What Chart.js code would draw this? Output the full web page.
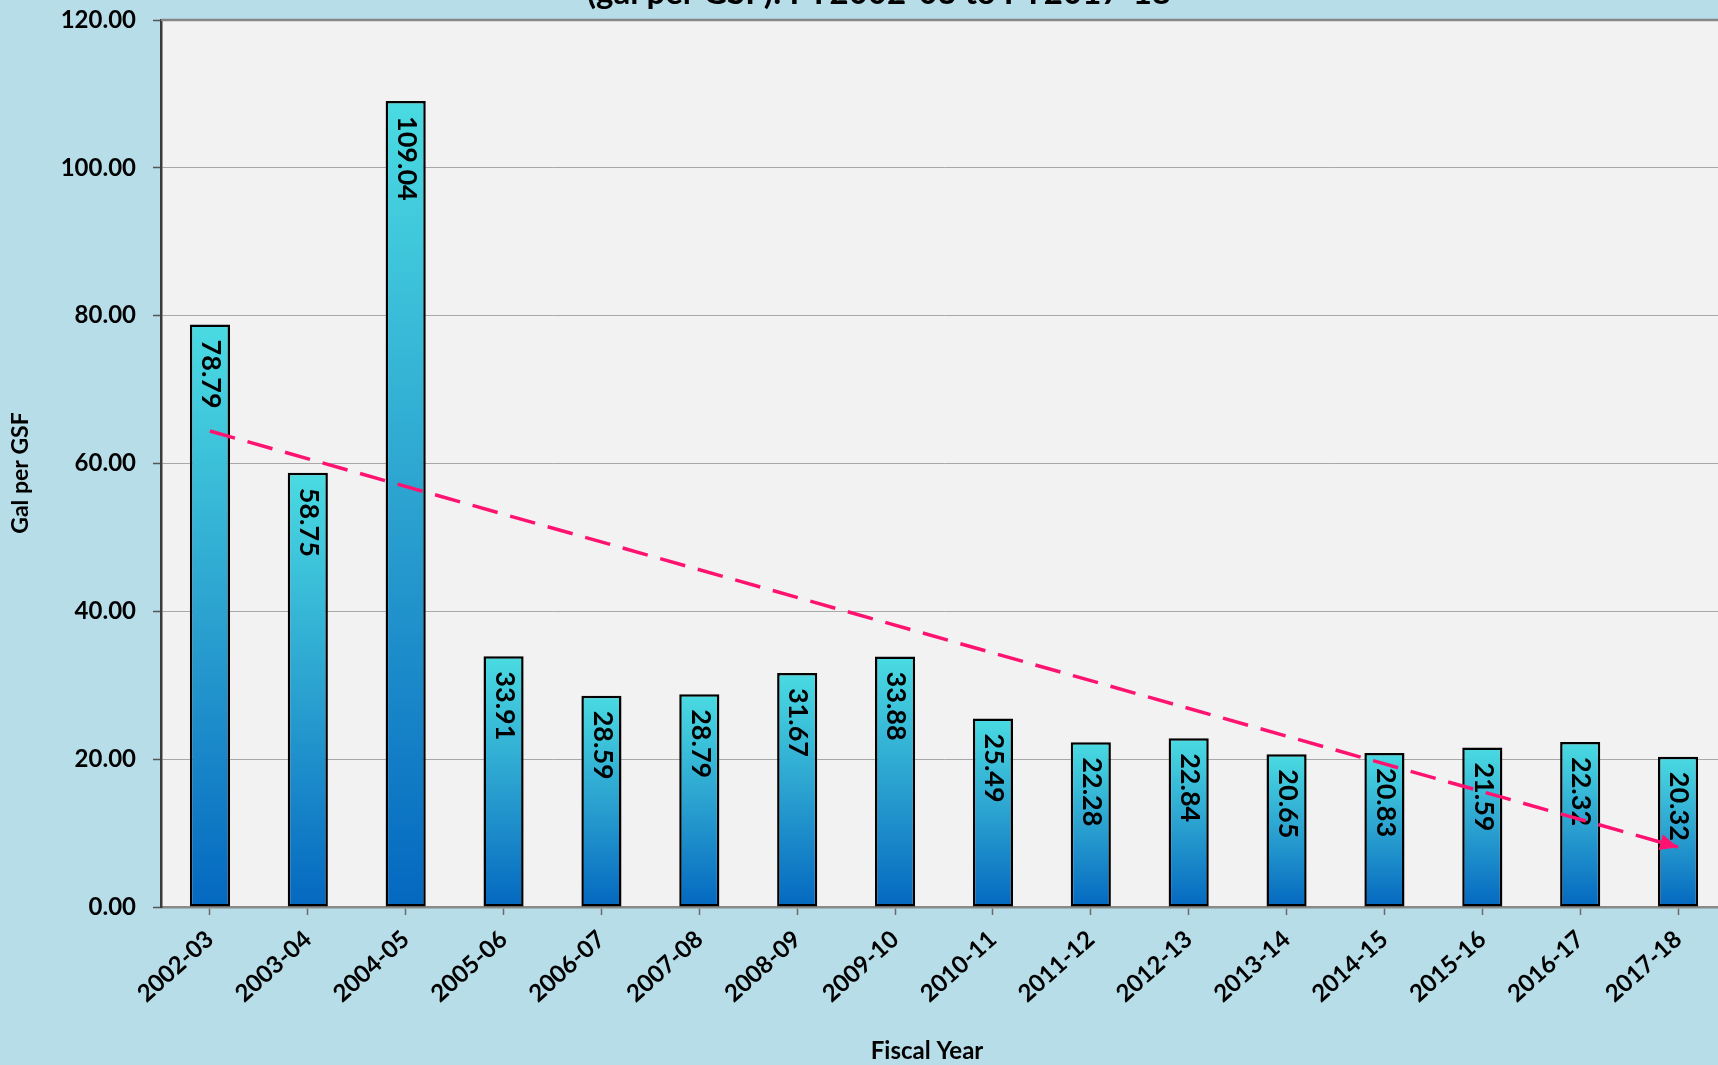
<!DOCTYPE html>
<html>
<head>
<meta charset="utf-8">
<title>Gal per GSF by Fiscal Year</title>
<script src="https://cdn.jsdelivr.net/npm/chart.js"></script>
<style>
  html, body { margin: 0; padding: 0; overflow: hidden; background: #b7dde8; }
  #wrap { position: absolute; left: 0; top: 0; width: 1740px; height: 1065px; }
</style>
</head>
<body>
<div id="wrap"><canvas id="waterChart" width="1740" height="1065"></canvas></div>
<script>
const fiscalYears = ['2002-03', '2003-04', '2004-05', '2005-06', '2006-07', '2007-08', '2008-09', '2009-10',
  '2010-11', '2011-12', '2012-13', '2013-14', '2014-15', '2015-16', '2016-17', '2017-18'];
const galPerGsf = [78.79, 58.75, 109.04, 33.91, 28.59, 28.79, 31.67, 33.88,
  25.49, 22.28, 22.84, 20.65, 20.83, 21.59, 22.32, 20.32];
// trend line end points (first and last fiscal year)
const trendStart = 64.4;
const trendEnd = 8.1;
const yTicks = [0, 20, 40, 60, 80, 100, 120];

const FONT = 'Lato, "Open Sans", sans-serif';

const trendData = fiscalYears.map((_, i) =>
  i === 0 ? trendStart : (i === fiscalYears.length - 1 ? trendEnd : null));

function barGradient(ctx) {
  const chart = ctx.chart;
  if (!chart.chartArea || ctx.type !== 'data') return '#2fa8d2';
  const y = chart.scales.y;
  const top = y.getPixelForValue(ctx.raw);
  const base = y.getPixelForValue(0);
  const g = chart.ctx.createLinearGradient(0, top, 0, base);
  g.addColorStop(0, '#4adbe2');
  g.addColorStop(0.5, '#2ba2d0');
  g.addColorStop(1, '#0468c0');
  return g;
}

// plot background, top frame line, clipped title line and axis titles
const frame = {
  id: 'frame',
  beforeDraw(chart) {
    const { ctx, chartArea: a } = chart;
    ctx.save();
    ctx.fillStyle = '#f2f2f2';
    ctx.fillRect(a.left, a.top, a.right - a.left, a.bottom - a.top);
    ctx.restore();
  },
  afterDraw(chart) {
    const { ctx, chartArea: a } = chart;
    ctx.save();
    ctx.strokeStyle = '#868686';
    ctx.lineWidth = 2.5;
    ctx.beginPath();
    ctx.moveTo(a.left, a.top);
    ctx.lineTo(a.right, a.top);
    ctx.stroke();

    ctx.fillStyle = '#000';
    ctx.textAlign = 'center';
    ctx.textBaseline = 'alphabetic';
    ctx.font = 'bold 33px ' + FONT;
    ctx.fillText('(gal per GSF): FY2002-03 to FY2017-18', 879, 4);

    ctx.textBaseline = 'middle';
    ctx.font = 'bold 24px ' + FONT;
    ctx.fillText('Fiscal Year', 927, 1051);

    ctx.font = 'bold 23px ' + FONT;
    ctx.translate(21, 473);
    ctx.rotate(-Math.PI / 2);
    ctx.fillText('Gal per GSF', 0, 0);
    ctx.restore();
  }
};

// vertical value labels inside each bar, reading top to bottom
const barLabels = {
  id: 'barLabels',
  afterDatasetDraw(chart, args) {
    if (args.meta.type !== 'bar') return;
    const ctx = chart.ctx;
    ctx.save();
    ctx.fillStyle = '#000';
    ctx.font = 'bold 27px ' + FONT;
    ctx.textAlign = 'left';
    ctx.textBaseline = 'middle';
    args.meta.data.forEach((bar, i) => {
      ctx.save();
      ctx.translate(bar.x + 1, bar.y + 15);
      ctx.rotate(Math.PI / 2);
      ctx.fillText(galPerGsf[i].toFixed(2), 0, 0);
      ctx.restore();
    });
    ctx.restore();
  }
};

// arrow head at the end of the trend line
const trendArrow = {
  id: 'trendArrow',
  afterDatasetsDraw(chart) {
    const meta = chart.getDatasetMeta(0);
    const pts = meta.data;
    const p0 = pts[0], p1 = pts[pts.length - 1];
    const ang = Math.atan2(p1.y - p0.y, p1.x - p0.x);
    const ctx = chart.ctx;
    ctx.save();
    ctx.translate(p1.x, p1.y);
    ctx.rotate(ang);
    ctx.fillStyle = '#fe1470';
    ctx.beginPath();
    ctx.moveTo(0, 0);
    ctx.lineTo(-18, -8);
    ctx.lineTo(-18, 8);
    ctx.closePath();
    ctx.fill();
    ctx.restore();
  }
};

new Chart(document.getElementById('waterChart'), {
  data: {
    labels: fiscalYears,
    datasets: [
      {
        type: 'line',
        data: trendData,
        order: 0,
        spanGaps: true,
        borderColor: '#fe1470',
        borderWidth: 3.5,
        borderDash: [26, 13],
        pointRadius: 0,
        fill: false
      },
      {
        type: 'bar',
        data: galPerGsf,
        order: 1,
        backgroundColor: barGradient,
        borderColor: '#000',
        borderWidth: 2.5,
        borderSkipped: false,
        categoryPercentage: 1,
        barPercentage: 0.41
      }
    ]
  },
  options: {
    responsive: false,
    animation: false,
    layout: { padding: { top: 20, right: 13, left: 0, bottom: 0 } },
    plugins: { legend: { display: false }, tooltip: { enabled: false } },
    scales: {
      x: {
        offset: true,
        afterFit: (s) => { s.height = 158; s.paddingLeft = 0; s.paddingRight = 0; },
        grid: { display: true, offset: false, drawOnChartArea: false, drawTicks: true, tickLength: 8, tickColor: '#6b6b6b', tickWidth: 1.5 },
        border: { color: '#8a8a8a', width: 2.5 },
        ticks: {
          autoSkip: false, minRotation: 42, maxRotation: 42, padding: 10,
          color: '#000', font: { family: FONT, size: 24, weight: 'bold' }
        }
      },
      y: {
        min: 0,
        max: 120,
        afterFit: (s) => { s.width = 161; s.paddingTop = 0; s.paddingBottom = 0; },
        afterBuildTicks: (s) => { s.ticks = yTicks.map(v => ({ value: v })); },
        grid: {
          color: '#a8a8a8', lineWidth: 1, borderDash: [2, 2],
          tickLength: 8, tickColor: '#555', tickWidth: 1.5, tickBorderDash: []
        },
        border: { color: '#3a3a3a', width: 2.5 },
        ticks: {
          padding: 17, color: '#000',
          font: { family: FONT, size: 24, weight: 'bold' },
          callback: (v) => Number(v).toFixed(2)
        }
      }
    }
  },
  plugins: [frame, barLabels, trendArrow]
});
</script>
</body>
</html>
